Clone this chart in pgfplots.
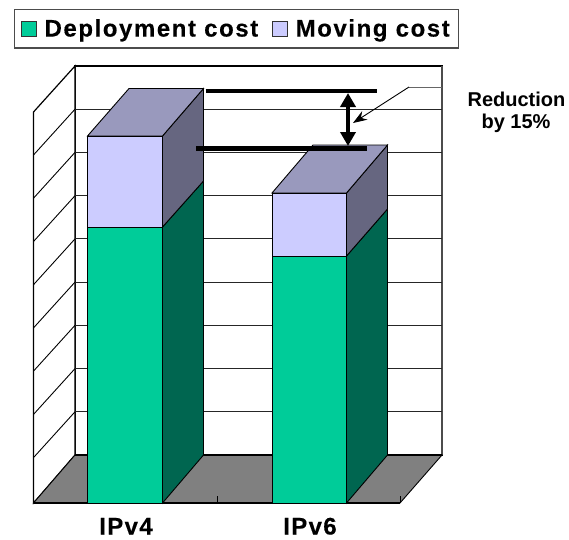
\documentclass[border=0pt]{standalone}
\usepackage{pgfplots}
\pgfplotsset{compat=1.18}
\usepackage{fontspec}
\setmainfont{Liberation Sans}
\usetikzlibrary{arrows.meta}
\definecolor{green1}{HTML}{00CC99}
\definecolor{green2}{HTML}{006650}
\definecolor{lav1}{HTML}{CCCCFF}
\definecolor{lavtop}{HTML}{9999BD}
\definecolor{lavside}{HTML}{666680}
\definecolor{floorc}{HTML}{808080}
\begin{document}
\begin{tikzpicture}
\begin{axis}[
  scale only axis, width=569pt, height=503pt,
  at={(0,36pt)}, anchor=south west,
  xmin=0, xmax=569, ymin=0, ymax=503, y dir=reverse,
  clip=false,
  axis line style={draw=none},
  ytick=\empty,
  xtick={126,310}, xticklabels={IPv4,IPv6},
  tick style={draw=none},
  xticklabel style={font=\fontsize{24}{24}\selectfont\bfseries\addfontfeature{LetterSpace=5.5,FakeBold=0.3}, inner sep=0pt, anchor=base, yshift=-31.5pt},
  legend style={at={(axis cs:13.5,8.5)}, anchor=north west, draw=black!70, line width=1.3pt,
    inner xsep=7pt, inner ysep=8pt, font=\fontsize{24}{24}\selectfont\bfseries\addfontfeature{LetterSpace=6.5,FakeBold=0.3},
    /tikz/every even column/.append style={column sep=12pt}},
  legend columns=2,
  legend image code/.code={\draw[#1,line width=0.9pt] (0pt,-7.5pt) rectangle (15pt,7.5pt); \path[draw=none,fill=none] (0pt,0pt) -- (21pt,0pt);},
]
% back and side walls
\addplot[forget plot, draw=black, line width=1.2pt, fill=white] coordinates {(75,66)(442,66)(442,455)(75,455)} -- cycle;
\addplot[forget plot, draw=black, line width=1.2pt, fill=white] coordinates {(33.5,112)(75,66)(75,455)(33.5,503)} -- cycle;
\addplot[forget plot, draw=black!70, line width=1.5pt] coordinates {(442,66)(442,455)};
% gridlines
\pgfplotsinvokeforeach{109.2,152.4,195.7,238.9,282.1,325.3,368.6,411.8}{
  \addplot[forget plot, draw=black!85, line width=0.9pt] coordinates {(75,#1)(442,#1)};
}
\addplot[forget plot, draw=black, line width=0.9pt] coordinates {(33.5,155)(75,109.2)};
\addplot[forget plot, draw=black, line width=0.9pt] coordinates {(33.5,198.2)(75,152.4)};
\addplot[forget plot, draw=black, line width=0.9pt] coordinates {(33.5,241.5)(75,195.7)};
\addplot[forget plot, draw=black, line width=0.9pt] coordinates {(33.5,284.7)(75,238.9)};
\addplot[forget plot, draw=black, line width=0.9pt] coordinates {(33.5,327.9)(75,282.1)};
\addplot[forget plot, draw=black, line width=0.9pt] coordinates {(33.5,371.1)(75,325.3)};
\addplot[forget plot, draw=black, line width=0.9pt] coordinates {(33.5,414.4)(75,368.6)};
\addplot[forget plot, draw=black, line width=0.9pt] coordinates {(33.5,457.6)(75,411.8)};
% floor
\addplot[forget plot, draw=black, line width=0.9pt, fill=floorc] coordinates {(33.5,503)(75,455)(442,455)(400,503)} -- cycle;
\addplot[forget plot, draw=black, line width=1.6pt] coordinates {(33.5,503)(400,503)};
\addplot[forget plot, draw=black, line width=1.2pt] coordinates {(75,455)(442,455)};
\addplot[forget plot, draw=black, line width=0.8pt] coordinates {(217.5,503)(217.5,496)};
\addplot[forget plot, draw=black, line width=0.8pt] coordinates {(400,503)(400,496)};
% bar IPv4
\addplot[forget plot, draw=black, line width=0.9pt, fill=green2] coordinates {(162.5,503)(203.5,455)(203.5,181)(162.5,227)} -- cycle;
\addplot[forget plot, draw=black, line width=0.9pt, fill=lavside] coordinates {(162.5,227)(203.5,181)(203.5,88.5)(162.5,136)} -- cycle;
\addplot[forget plot, draw=black, line width=0.9pt, fill=lavtop] coordinates {(87.5,136)(129,88.5)(203.5,88.5)(162.5,136)} -- cycle;
\addplot[forget plot, draw=black, line width=0.9pt, fill=green1] coordinates {(87.5,503)(162.5,503)(162.5,227)(87.5,227)} -- cycle;
\addplot[forget plot, draw=black, line width=0.9pt, fill=lav1] coordinates {(87.5,227)(162.5,227)(162.5,136)(87.5,136)} -- cycle;
% bar IPv6
\addplot[forget plot, draw=black, line width=0.9pt, fill=green2] coordinates {(346.5,503)(387.5,455)(387.5,209)(346.5,256)} -- cycle;
\addplot[forget plot, draw=black, line width=0.9pt, fill=lavside] coordinates {(346.5,256)(387.5,209)(387.5,145)(346.5,193)} -- cycle;
\addplot[forget plot, draw=black, line width=0.9pt, fill=lavtop] coordinates {(272,193)(313,145)(387.5,145)(346.5,193)} -- cycle;
\addplot[forget plot, draw=black, line width=0.9pt, fill=green1] coordinates {(272,503)(346.5,503)(346.5,256)(272,256)} -- cycle;
\addplot[forget plot, draw=black, line width=0.9pt, fill=lav1] coordinates {(272,256)(346.5,256)(346.5,193)(272,193)} -- cycle;
% reduction annotation
\addplot[forget plot, draw=black, line width=4.5pt] coordinates {(205.5,91)(376.5,91)};
\addplot[forget plot, draw=black, line width=4.5pt] coordinates {(196,148.5)(367,148.5)};
\addplot[forget plot, draw=black, line width=4pt, {Triangle[length=14pt,width=15pt]}-{Triangle[length=14pt,width=15pt]}] coordinates {(348,93)(348,146)};
\addplot[forget plot, draw=black!60, line width=0.9pt] coordinates {(442,87)(409,87)};
\addplot[forget plot, draw=black, line width=0.9pt, -{Stealth[length=14pt,width=10pt]}] coordinates {(409,87)(353,123)};
\node[font=\fontsize{20}{20}\selectfont\bfseries, anchor=base, inner sep=0pt] at (axis cs:516.5,106) {Reduction};
\node[font=\fontsize{20}{20}\selectfont\bfseries, anchor=base, inner sep=0pt] at (axis cs:516,128) {by 15\%};
% legend
\addlegendimage{draw=black!80, fill=green1}
\addlegendentry{Deployment cost}
\addlegendimage{draw=black!80, fill=lav1}
\addlegendentry{Moving cost}
\path (axis cs:0,0) rectangle (axis cs:569,539);
\end{axis}
\end{tikzpicture}
\end{document}
